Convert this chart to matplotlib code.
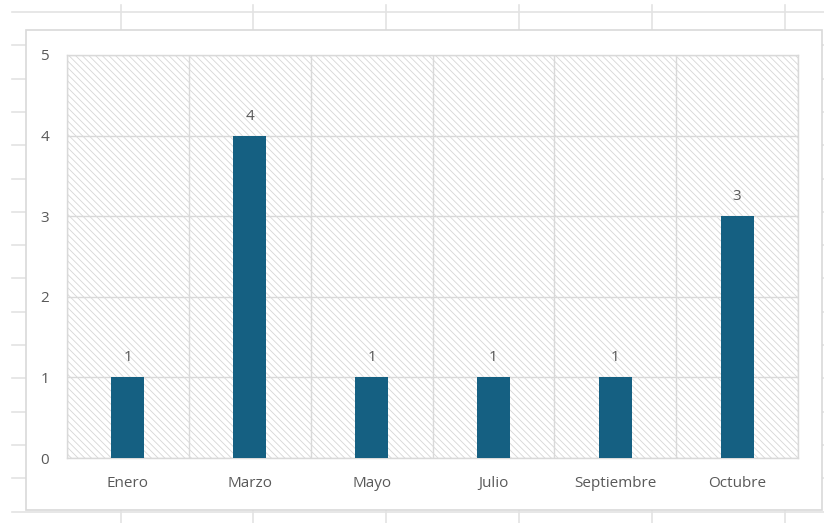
import matplotlib.pyplot as plt
from matplotlib.patches import Rectangle

# chart data
months = ["Enero", "Marzo", "Mayo", "Julio", "Septiembre", "Octubre"]
counts = [1, 4, 1, 1, 1, 3]
y_ticks = [0, 1, 2, 3, 4, 5]

bar_color = "#156082"
text_color = "#595959"
grid_color = "#D9D9D9"
sheet_color = "#E3E3E3"

plt.rcParams["font.family"] = ["Open Sans", "DejaVu Sans"]
plt.rcParams["hatch.color"] = "#D6D6D6"
plt.rcParams["hatch.linewidth"] = 0.6

W, H = 824, 523
fig = plt.figure(figsize=(W / 100, H / 100), dpi=100)

# spreadsheet behind the chart (pixel coords)
bg = fig.add_axes([0, 0, 1, 1])
bg.set_xlim(0, W)
bg.set_ylim(H, 0)
bg.axis("off")
for x in [121, 253, 386, 519, 652, 785]:
    bg.plot([x, x], [5, H], color=sheet_color, lw=1.2, zorder=1)
y = 12
while y < H:
    bg.plot([12, W], [y, y], color=sheet_color, lw=1.2, zorder=1)
    y += 33.3
bg.add_patch(Rectangle((26, 30), 796, 480, facecolor="white",
                       edgecolor=grid_color, lw=1.2, zorder=2))

# plot area
left, right, top, bottom = 67, 798, 55, 458
ax = fig.add_axes([left / W, 1 - bottom / H, (right - left) / W, (bottom - top) / H])
ax.set_zorder(3)
ax.patch.set_alpha(0)
ax.add_patch(Rectangle((0, 0), 1, 1, transform=ax.transAxes, facecolor="white",
                       edgecolor="#D6D6D6", hatch="\\\\\\\\\\", lw=0, zorder=0))

x = range(len(months))
bars = ax.bar(x, counts, width=0.27, color=bar_color, zorder=3)
for xi, v in zip(x, counts):
    ax.annotate(str(v), (xi, v), xytext=(0, 11.5), textcoords="offset points",
                ha="center", va="baseline", fontsize=11, color=text_color, zorder=4)

ax.set_xlim(-0.5, len(months) - 0.5)
ax.set_ylim(0, 5)
ax.set_yticks(y_ticks)
ax.set_xticks(list(x))
ax.set_xticklabels(months)
ax.set_xticks([i - 0.5 for i in range(len(months) + 1)], minor=True)

ax.grid(axis="y", which="major", color=grid_color, lw=1, zorder=1)
ax.grid(axis="x", which="minor", color=grid_color, lw=1, zorder=1)
ax.set_axisbelow(True)

ax.tick_params(axis="both", which="both", length=0, labelsize=11, labelcolor=text_color)
ax.tick_params(axis="x", pad=13)
ax.tick_params(axis="y", pad=13)
for s in ax.spines.values():
    s.set_color(grid_color)
    s.set_linewidth(1)

fig.savefig("out.png", dpi=100)
